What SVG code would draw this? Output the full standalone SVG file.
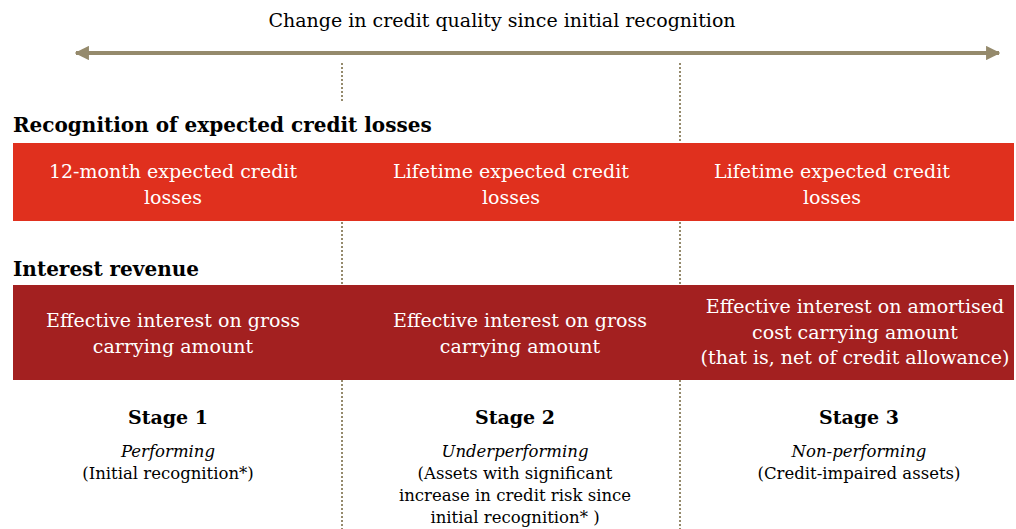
<svg xmlns="http://www.w3.org/2000/svg" width="1016" height="529" viewBox="0 0 1016 529">
<style>
text{font-family:"DejaVu Serif","Liberation Serif",serif;}
.t{font-size:19px;fill:#000;text-anchor:middle;}
.h{font-size:20px;font-weight:bold;fill:#000;}
.b{font-size:19px;fill:#fff;text-anchor:middle;}
.s{font-size:19px;font-weight:bold;fill:#000;text-anchor:middle;}
.d{font-size:16.5px;fill:#000;text-anchor:middle;}
.i{font-style:italic;}
.dot{stroke:#958a6c;stroke-width:2;stroke-dasharray:2 2;fill:none;}
</style>
<defs>
<marker id="ah" viewBox="0 0 10 10" refX="9" refY="5" markerWidth="3.6" markerHeight="3.6" orient="auto-start-reverse" markerUnits="strokeWidth">
<path d="M0,0 L10,5 L0,10 Z" fill="#958a6c"/>
</marker>
</defs>
<g id="connectors">
<line x1="76" y1="53" x2="999" y2="53" stroke="#958a6c" stroke-width="4" marker-start="url(#ah)" marker-end="url(#ah)"/>
<path class="dot" d="M342,63 V103 M342,222 V285 M342,380 V529 M680,63 V143 M680,222 V285 M680,380 V529"/>
</g>
<g id="title"><text class="t" x="502" y="27">Change in credit quality since initial recognition</text></g>
<g id="heading1"><text class="h" x="13" y="132">Recognition of expected credit losses</text></g>
<g id="ecl-band">
<rect x="13" y="143" width="1001" height="78" fill="#e0301e"/>
<text class="b" x="173" y="178">12-month expected credit</text>
<text class="b" x="173" y="204">losses</text>
<text class="b" x="511" y="178">Lifetime expected credit</text>
<text class="b" x="511" y="204">losses</text>
<text class="b" x="832" y="178">Lifetime expected credit</text>
<text class="b" x="832" y="204">losses</text>
</g>
<g id="heading2"><text class="h" x="13" y="276">Interest revenue</text></g>
<g id="interest-band">
<rect x="13" y="285" width="1001" height="95" fill="#a32020"/>
<text class="b" x="173" y="327">Effective interest on gross</text>
<text class="b" x="173" y="353">carrying amount</text>
<text class="b" x="520" y="327">Effective interest on gross</text>
<text class="b" x="520" y="353">carrying amount</text>
<text class="b" x="855" y="313">Effective interest on amortised</text>
<text class="b" x="855" y="339">cost carrying amount</text>
<text class="b" x="855" y="364">(that is, net of credit allowance)</text>
</g>
<g id="stage1">
<text class="s" x="168" y="424">Stage 1</text>
<text class="d i" x="168" y="457">Performing</text>
<text class="d" x="168" y="479">(Initial recognition*)</text>
</g>
<g id="stage2">
<text class="s" x="515" y="424">Stage 2</text>
<text class="d i" x="515" y="457">Underperforming</text>
<text class="d" x="515" y="479">(Assets with significant</text>
<text class="d" x="515" y="501">increase in credit risk since</text>
<text class="d" x="515" y="523">initial recognition* )</text>
</g>
<g id="stage3">
<text class="s" x="859" y="424">Stage 3</text>
<text class="d i" x="859" y="457">Non-performing</text>
<text class="d" x="859" y="479">(Credit-impaired assets)</text>
</g>
</svg>
